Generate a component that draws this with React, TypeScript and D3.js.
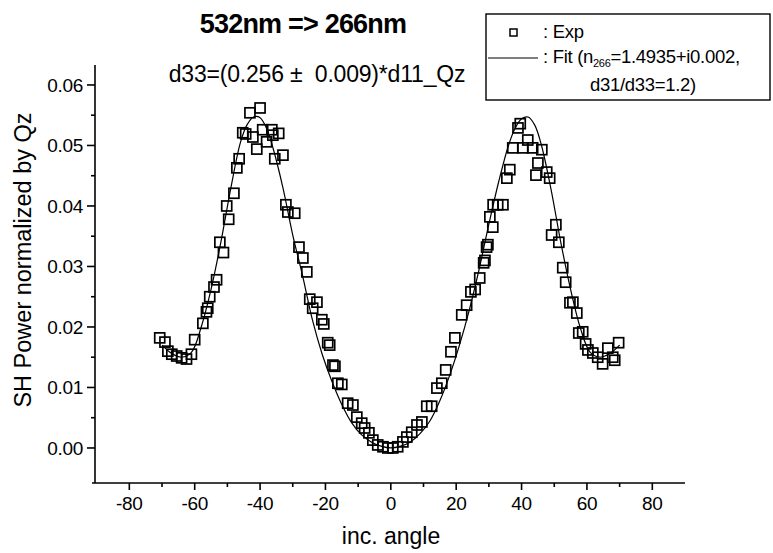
import React from "react";
import * as d3 from "d3";

// measured points (inc. angle in degrees, SH power normalized by Qz)
const expAngle = [
  -70.7, -69.1, -68.2, -67.0, -65.5, -64.0, -62.5, -61.0, -60.0, -57.5, -56.4, -56.0, -55.4, -54.1, -53.3,
  -52.3, -51.2, -50.2, -49.6, -48.0, -47.1, -46.4, -45.3, -44.4, -43.1, -42.2, -41.0, -40.0, -39.2, -38.0,
  -36.4, -36.1, -35.5, -34.3, -33.0, -32.1, -31.5, -29.4, -28.1, -26.9, -25.7, -24.8, -23.9, -22.6, -21.1,
  -20.5, -19.3, -18.7, -17.7, -17.1, -16.2, -15.0, -13.2, -11.6, -10.4, -8.9, -8.0, -6.7, -5.5, -4.0,
  -2.4, -0.9, 0.6, 2.1, 3.7, 4.9, 6.4, 8.0, 9.5, 11.0, 12.5, 14.1, 15.6, 16.8, 18.4,
  19.6, 21.7, 23.2, 24.5, 25.8, 27.2, 28.4, 28.8, 29.3, 29.7, 30.3, 31.2, 31.3, 32.7, 34.3,
  35.5, 36.4, 37.3, 38.9, 39.6, 40.4, 41.9, 43.4, 44.4, 45.0, 46.2, 47.7, 48.6, 49.2, 50.5,
  51.4, 52.6, 53.5, 54.8, 55.7, 56.9, 57.5, 58.7, 59.6, 60.3, 61.8, 63.3, 64.8, 66.4, 67.9,
  68.5, 69.7,
];
const expValue = [
  0.0182, 0.0175, 0.016, 0.0155, 0.0152, 0.0149, 0.0147, 0.0155, 0.0179, 0.0206, 0.0225, 0.0231, 0.025, 0.0266, 0.0278,
  0.034, 0.0323, 0.04, 0.0378, 0.0421, 0.0463, 0.0478, 0.0521, 0.0519, 0.0554, 0.0514, 0.0494, 0.0562, 0.0526, 0.0506,
  0.0526, 0.0517, 0.0478, 0.052, 0.0484, 0.0402, 0.039, 0.0388, 0.0332, 0.0314, 0.0291, 0.0246, 0.0231, 0.0241, 0.0212,
  0.0205, 0.0174, 0.017, 0.0137, 0.0135, 0.0107, 0.0105, 0.0074, 0.0071, 0.0051, 0.0041, 0.0033, 0.0025, 0.0013, 0.0005,
  0.0002, 0.0, 0.0, 0.0002, 0.001, 0.0018, 0.0026, 0.0038, 0.0043, 0.0069, 0.0069, 0.0099, 0.0107, 0.0129, 0.0159,
  0.0182, 0.022, 0.0236, 0.0258, 0.0262, 0.0281, 0.0306, 0.031, 0.0332, 0.0336, 0.0382, 0.0365, 0.0402, 0.0402, 0.0402,
  0.0446, 0.046, 0.0496, 0.0529, 0.0536, 0.0496, 0.0509, 0.0496, 0.0451, 0.0471, 0.0493, 0.0456, 0.0446, 0.0352, 0.0369,
  0.034, 0.0298, 0.0274, 0.024, 0.0241, 0.0223, 0.019, 0.0192, 0.0172, 0.0162, 0.0157, 0.015, 0.0139, 0.0165, 0.015,
  0.0145, 0.0174,
];

// fit curve
const fitAngle = [
  -70, -67, -64, -61, -58, -55, -52, -49, -46, -44, -42, -40, -38, -36, -33, -30, -27, -24, -21, -18, -15, -12, -9, -6, -3,
  0, 3, 6, 9, 12, 15, 18, 21, 24, 27, 30, 33, 36, 38, 40, 42, 44, 46, 49, 52, 55, 58, 61, 64, 67, 70,
];
const fitValue = [
  0.017, 0.0156, 0.015, 0.0158, 0.02, 0.0262, 0.034, 0.0428, 0.0505, 0.0534, 0.0547, 0.0546, 0.0528, 0.0495, 0.043,
  0.0352, 0.0285, 0.0212, 0.0155, 0.011, 0.0072, 0.0042, 0.0022, 0.001, 0.0003,
  0.0, 0.0003, 0.001, 0.0024, 0.0045, 0.0078, 0.012, 0.017, 0.0228, 0.0295, 0.037, 0.044, 0.05, 0.0528, 0.0544, 0.0547,
  0.0534, 0.0502, 0.0428, 0.034, 0.0262, 0.0198, 0.0158, 0.015, 0.0156, 0.017,
];

const xTicks = [-80, -60, -40, -20, 0, 20, 40, 60, 80];
const xMinor = [-70, -50, -30, -10, 10, 30, 50, 70];
const yTicks = [0, 0.01, 0.02, 0.03, 0.04, 0.05, 0.06];
const yMinor = [0.005, 0.015, 0.025, 0.035, 0.045, 0.055];

const FONT = "'Liberation Sans', Arial, sans-serif";

export default function App() {
  const x = d3.scaleLinear().domain([-90.5, 90]).range([95, 685]);
  const y = d3.scaleLinear().domain([-0.00579, 0.0633]).range([483, 65]);

  const fitLine = d3
    .line<number>()
    .x((d, i) => x(fitAngle[i]))
    .y(d => y(d))
    .curve(d3.curveCatmullRom.alpha(0.5));

  const sq = 10;

  return (
    <svg
      width={773}
      height={553}
      style={{ position: "absolute", left: 0, top: 0, background: "#fff" }}
      fontFamily={FONT}
    >
      {/* titles */}
      <text x={303} y={33} textAnchor="middle" fontSize={27} fontWeight="bold" letterSpacing={-0.8}>
        532nm =&gt; 266nm
      </text>
      <text x={317} y={82} textAnchor="middle" fontSize={23} letterSpacing={-0.2} style={{ whiteSpace: "pre" }}>
        {"d33=(0.256 \u00b1  0.009)*d11_Qz"}
      </text>

      {/* axes */}
      <g stroke="#000" strokeWidth={1.6}>
        <line x1={x.range()[0]} x2={x.range()[0]} y1={y.range()[0]} y2={y.range()[1]} />
        <line x1={x.range()[0] - 3} x2={x.range()[1]} y1={y.range()[0]} y2={y.range()[0]} />
        {xTicks.map(t => (
          <line key={"xt" + t} x1={x(t)} x2={x(t)} y1={y.range()[0]} y2={y.range()[0] + 7} />
        ))}
        {xMinor.map(t => (
          <line key={"xm" + t} x1={x(t)} x2={x(t)} y1={y.range()[0]} y2={y.range()[0] + 4} />
        ))}
        {yTicks.map(t => (
          <line key={"yt" + t} x1={x.range()[0] - 8} x2={x.range()[0]} y1={y(t)} y2={y(t)} />
        ))}
        {yMinor.map(t => (
          <line key={"ym" + t} x1={x.range()[0] - 4} x2={x.range()[0]} y1={y(t)} y2={y(t)} />
        ))}
      </g>
      <g fontSize={19} letterSpacing={-0.3}>
        {xTicks.map(t => (
          <text key={"xl" + t} x={x(t)} y={510} textAnchor="middle">
            {t}
          </text>
        ))}
        {yTicks.map(t => (
          <text key={"yl" + t} x={83} y={y(t) + 7} textAnchor="end">
            {t.toFixed(2)}
          </text>
        ))}
      </g>
      <text x={391} y={544} textAnchor="middle" fontSize={23}>
        inc. angle
      </text>
      <text transform="translate(31,260) rotate(-90)" textAnchor="middle" fontSize={23.5}>
        SH Power normalized by Qz
      </text>

      {/* fit */}
      <path d={fitLine(fitValue) || ""} fill="none" stroke="#000" strokeWidth={1.2} />

      {/* data */}
      <g fill="none" stroke="#000" strokeWidth={1.7}>
        {expValue.map((v, i) => (
          <rect key={i} x={x(expAngle[i]) - sq / 2} y={y(v) - sq / 2} width={sq} height={sq} />
        ))}
      </g>

      {/* legend */}
      <rect x={486} y={14} width={284} height={86} fill="#fff" stroke="#000" strokeWidth={1.4} />
      <rect x={510} y={29} width={7} height={7} fill="none" stroke="#000" strokeWidth={1.5} />
      <text x={543} y={38} fontSize={18.5} letterSpacing={-0.3}>
        : Exp
      </text>
      <line x1={488} x2={538} y1={58} y2={58} stroke="#000" strokeWidth={1.2} />
      <text x={543} y={63} fontSize={18.5} letterSpacing={-0.3}>
        : Fit (n
        <tspan fontSize={11} dy={4}>
          266
        </tspan>
        <tspan dy={-4}>=1.4935+i0.002,</tspan>
      </text>
      <text x={590} y={91} fontSize={18.5} letterSpacing={-0.3}>
        d31/d33=1.2)
      </text>
    </svg>
  );
}
